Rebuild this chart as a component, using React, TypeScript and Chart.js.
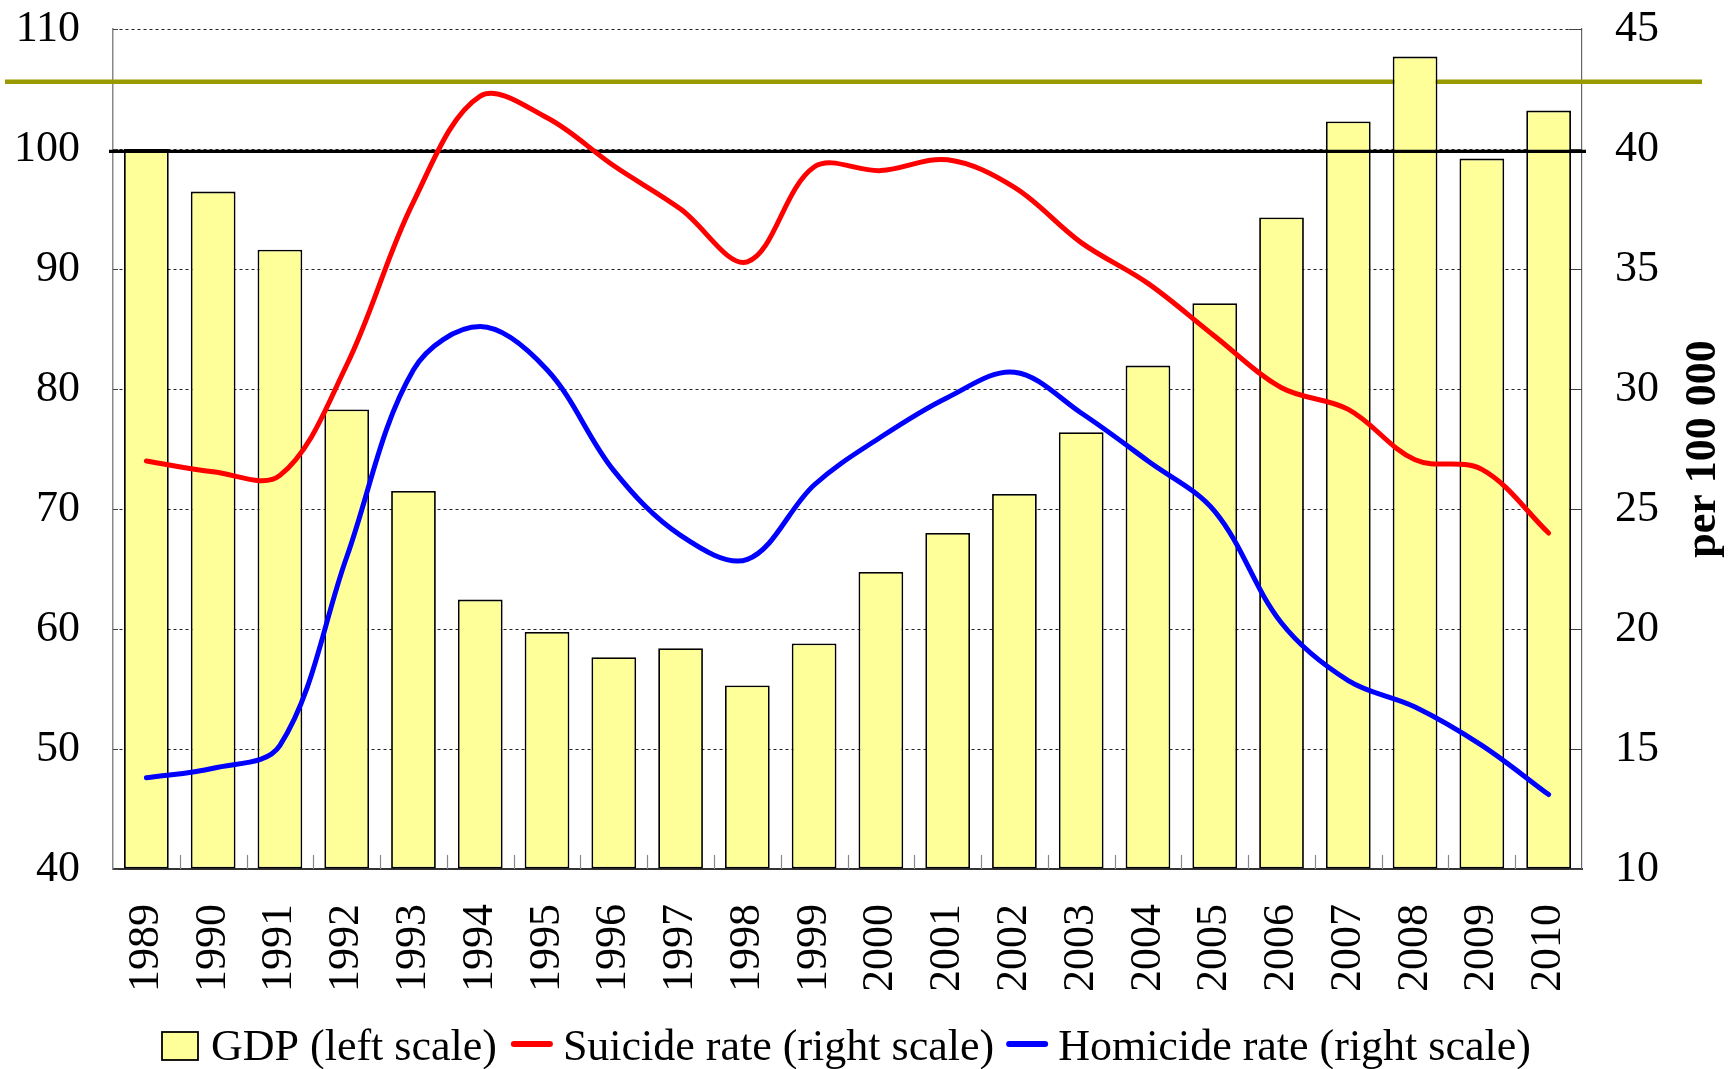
import React, { useEffect, useRef } from "react";
import { Chart, registerables } from "chart.js";

Chart.register(...registerables);

const YEARS = [
  "1989", "1990", "1991", "1992", "1993", "1994", "1995", "1996", "1997", "1998", "1999",
  "2000", "2001", "2002", "2003", "2004", "2005", "2006", "2007", "2008", "2009", "2010",
];
const GDP = [
  100.0, 96.45, 91.6, 78.3, 71.5, 62.45, 59.75, 57.65, 58.4, 55.3, 58.8,
  64.75, 68.0, 71.25, 76.4, 81.95, 87.15, 94.3, 102.3, 107.7, 99.2, 103.2,
];
const SUICIDE = [
  27.0, 26.55, 26.4, 31.0, 37.8, 42.2, 41.3, 39.3, 37.5, 35.3, 39.25,
  39.1, 39.55, 38.4, 36.1, 34.4, 32.2, 30.05, 29.15, 27.05, 26.65, 24.0,
];
const HOMICIDE = [
  13.8, 14.2, 15.15, 23.0, 30.8, 32.6, 30.8, 26.6, 23.9, 22.9, 26.0,
  28.0, 29.65, 30.7, 29.0, 27.0, 24.9, 20.25, 17.85, 16.75, 15.15, 13.1,
];
const LEFT_TICKS = [40, 50, 60, 70, 80, 90, 100, 110];
const RIGHT_TICKS = [10, 15, 20, 25, 30, 35, 40, 45];
const OLIVE_LEVEL = 105.6; // left scale
const BASE_LEVEL = 99.8; // left scale
const LEGEND_LABELS = ["GDP (left scale)", "Suicide rate (right scale)", "Homicide rate (right scale)"];
const RIGHT_TITLE = "per 100 000";

const FONT = '"Liberation Serif", "Times New Roman", Times, serif';
const BAR_FILL = "#FFFF99";
const RED = "#FF0000";
const BLUE = "#0000FF";
const OLIVE = "#999900";

const decorPlugin = {
  id: "decor",
  beforeDatasetsDraw(chart: any) {
    const { ctx, chartArea, scales, width } = chart;
    const y = scales.y;
    const y1 = scales.y1;
    const x = scales.x;
    ctx.save();
    // olive reference line (behind bars)
    const oy = y.getPixelForValue(OLIVE_LEVEL);
    ctx.strokeStyle = OLIVE;
    ctx.lineWidth = 4.5;
    ctx.beginPath();
    ctx.moveTo(5, oy);
    ctx.lineTo(width - 26, oy);
    ctx.stroke();
    // inward ticks on the value axes
    ctx.strokeStyle = "#444";
    ctx.lineWidth = 1;
    ctx.beginPath();
    for (const v of LEFT_TICKS) {
      const py = Math.round(y.getPixelForValue(v)) + 0.5;
      ctx.moveTo(chartArea.left, py);
      ctx.lineTo(chartArea.left + 5, py);
    }
    for (const v of RIGHT_TICKS) {
      const py = Math.round(y1.getPixelForValue(v)) + 0.5;
      ctx.moveTo(chartArea.right - 13, py);
      ctx.lineTo(chartArea.right, py);
    }
    ctx.stroke();
    // category boundary ticks on x axis
    ctx.strokeStyle = "#888";
    ctx.lineWidth = 1.2;
    ctx.beginPath();
    for (let i = 1; i < YEARS.length; i++) {
      const px = Math.round((x.getPixelForValue(i - 1) + x.getPixelForValue(i)) / 2) + 0.5;
      ctx.moveTo(px, chartArea.bottom);
      ctx.lineTo(px, chartArea.bottom - 14);
    }
    ctx.stroke();
    ctx.restore();
  },
  afterDatasetDraw(chart: any, args: any) {
    if (args.index !== 0) return;
    const { ctx, chartArea, scales } = chart;
    const by = scales.y.getPixelForValue(BASE_LEVEL);
    ctx.save();
    ctx.strokeStyle = "#000";
    ctx.lineWidth = 3.2;
    ctx.beginPath();
    ctx.moveTo(chartArea.left - 4, by);
    ctx.lineTo(chartArea.right + 4, by);
    ctx.stroke();
    ctx.restore();
  },
  afterDraw(chart: any) {
    const { ctx, chartArea } = chart;
    ctx.save();
    // right axis title, reading bottom to top
    ctx.fillStyle = "#000";
    ctx.font = `bold 44px ${FONT}`;
    ctx.textAlign = "center";
    ctx.textBaseline = "alphabetic";
    ctx.translate(chartArea.right + 133, (chartArea.top + chartArea.bottom) / 2);
    ctx.rotate(-Math.PI / 2);
    ctx.fillText(RIGHT_TITLE, 0, 0);
    ctx.restore();

    // legend
    ctx.save();
    ctx.font = `44px ${FONT}`;
    ctx.textAlign = "left";
    ctx.textBaseline = "alphabetic";
    ctx.fillStyle = "#000";
    const baseY = 1060;
    const midY = 1044;
    let cx = 162;
    ctx.fillStyle = BAR_FILL;
    ctx.fillRect(cx, 1032, 36, 28);
    ctx.strokeStyle = "#000";
    ctx.lineWidth = 1.8;
    ctx.strokeRect(cx, 1032, 36, 28);
    cx += 36 + 13;
    ctx.fillStyle = "#000";
    ctx.fillText(LEGEND_LABELS[0], cx, baseY);
    cx += ctx.measureText(LEGEND_LABELS[0]).width + 14;
    const colors = [RED, BLUE];
    for (let i = 1; i < 3; i++) {
      ctx.strokeStyle = colors[i - 1];
      ctx.lineWidth = 6;
      ctx.lineCap = "round";
      ctx.beginPath();
      ctx.moveTo(cx + 3, midY);
      ctx.lineTo(cx + 39, midY);
      ctx.stroke();
      cx += 42 + 10;
      ctx.fillStyle = "#000";
      ctx.fillText(LEGEND_LABELS[i], cx, baseY);
      cx += ctx.measureText(LEGEND_LABELS[i]).width + 12;
    }
    ctx.restore();
  },
};

export default function App() {
  const canvasRef = useRef<HTMLCanvasElement | null>(null);

  useEffect(() => {
    const canvas = canvasRef.current;
    if (!canvas) return;
    const tickFont = { family: FONT, size: 44 };
    const chart = new Chart(canvas, {
      type: "bar",
      data: {
        labels: YEARS,
        datasets: [
          {
            type: "bar",
            label: LEGEND_LABELS[0],
            data: GDP,
            yAxisID: "y",
            backgroundColor: BAR_FILL,
            borderColor: "#000",
            borderWidth: 1.8,
            borderSkipped: false,
            barPercentage: 0.67,
            categoryPercentage: 1,
            base: 40,
            order: 3,
          } as any,
          {
            type: "line",
            label: LEGEND_LABELS[1],
            data: SUICIDE,
            yAxisID: "y1",
            borderColor: RED,
            backgroundColor: RED,
            borderWidth: 5,
            tension: 0.35,
            pointRadius: 0,
            borderCapStyle: "round",
            borderJoinStyle: "round",
            fill: false,
            order: 0,
          } as any,
          {
            type: "line",
            label: LEGEND_LABELS[2],
            data: HOMICIDE,
            yAxisID: "y1",
            borderColor: BLUE,
            backgroundColor: BLUE,
            borderWidth: 5,
            tension: 0.35,
            pointRadius: 0,
            borderCapStyle: "round",
            borderJoinStyle: "round",
            fill: false,
            order: 0,
          } as any,
        ],
      },
      options: {
        animation: false,
        responsive: false,
        devicePixelRatio: 1,
        events: [],
        layout: { padding: { top: 29, bottom: 0, left: 0, right: 0 } },
        plugins: {
          legend: { display: false },
          tooltip: { enabled: false },
        },
        scales: {
          x: {
            type: "category",
            offset: true,
            grid: { display: false, drawTicks: false },
            border: { display: true, color: "#333", width: 2 },
            ticks: {
              autoSkip: false,
              minRotation: 90,
              maxRotation: 90,
              padding: 35,
              color: "#000",
              font: tickFont,
            },
            afterFit: (s: any) => {
              s.height = 200;
              s.paddingTop = 0;
              s.paddingBottom = 0;
            },
          },
          y: {
            position: "left",
            min: 40,
            max: 110,
            ticks: { stepSize: 10, padding: 33, color: "#000", font: tickFont },
            grid: {
              drawTicks: false,
              lineWidth: 1,
              color: (c: any) => (c.tick && c.tick.value === 40 ? "rgba(0,0,0,0)" : "#222"),
            },
            border: { display: true, color: "#888", width: 1.5, dash: [3, 3] },
            afterFit: (s: any) => {
              s.width = 113;
              s.paddingTop = 0;
              s.paddingBottom = 0;
            },
          },
          y1: {
            position: "right",
            min: 10,
            max: 45,
            ticks: { stepSize: 5, padding: 33, color: "#000", font: tickFont },
            grid: { drawOnChartArea: false, drawTicks: false },
            border: { display: true, color: "#666", width: 1.2 },
            afterFit: (s: any) => {
              s.width = 146;
              s.paddingTop = 0;
              s.paddingBottom = 0;
            },
          },
        },
      } as any,
      plugins: [decorPlugin],
    });
    return () => {
      chart.destroy();
    };
  }, []);

  return (
    <div style={{ position: "fixed", left: 0, top: 0, width: 1728, height: 1069, background: "#fff" }}>
      <canvas ref={canvasRef} width={1728} height={1069} style={{ width: 1728, height: 1069, display: "block" }} />
    </div>
  );
}
